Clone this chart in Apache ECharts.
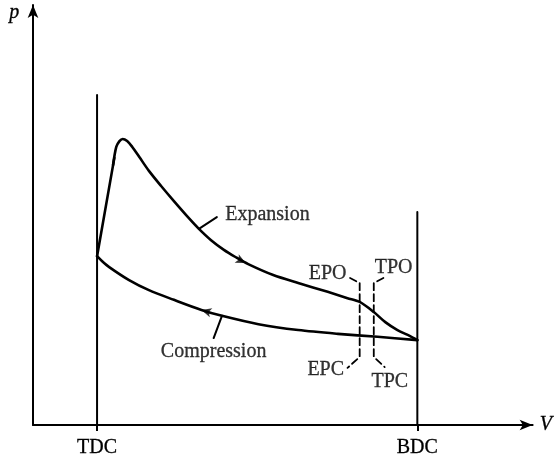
<!DOCTYPE html>
<html>
<head>
<meta charset="utf-8">
<script src="https://cdn.jsdelivr.net/npm/echarts@6/dist/echarts.min.js"></script>
<style>
html, body { margin: 0; padding: 0; background: #fff; }
#main { width: 555px; height: 460px; }
</style>
</head>
<body>
<div id="main"></div>
<script>
var chart = echarts.init(document.getElementById('main'));

// volume ticks (TDC = 1, BDC = 6)
var tickValues = [1, 6];
var tickLabels = ['TDC', 'BDC'];

// combustion pressure rise just after TDC (straight)
var combustion = [[1.0, 4.02], [1.27, 6.36]];

// expansion stroke, peak -> BDC
var expansion = [
    [1.25, 6.19], [1.30, 6.62], [1.35, 6.76], [1.40, 6.81], [1.47, 6.76],
    [1.55, 6.62], [1.66, 6.38], [1.81, 6.05], [2.00, 5.69], [2.20, 5.33],
    [2.43, 4.93], [2.59, 4.67], [2.78, 4.40], [2.98, 4.17], [3.16, 4.00],
    [3.36, 3.83], [3.75, 3.57], [4.14, 3.38], [4.60, 3.17], [4.91, 3.02],
    [5.10, 2.93], [5.32, 2.69], [5.50, 2.45], [5.69, 2.26], [5.88, 2.12],
    [6.0, 2.02]
];

// compression stroke, TDC <- BDC
var compression = [
    [1.0, 4.02], [1.08, 3.90], [1.19, 3.76], [1.50, 3.45], [1.81, 3.21],
    [2.20, 2.98], [2.63, 2.74], [2.95, 2.60], [3.52, 2.40], [4.14, 2.26],
    [4.76, 2.17], [5.38, 2.10], [6.0, 2.02]
];

// dead-centre lines
var tdcLine = [[1, 0], [1, 7.86]];
var bdcLine = [[6, 0], [6, 5.07]];

// port timing markers
var exhaustPort = [[4.95, 3.50], [5.10, 3.38], [5.10, 1.62], [4.91, 1.36]];
var transferPort = [[5.47, 3.50], [5.32, 3.38], [5.32, 1.62], [5.49, 1.38]];

// leader lines
var expansionLeader = [[2.59, 4.67], [2.87, 4.95]];
var compressionLeader = [[2.82, 2.07], [2.95, 2.60]];

// direction arrows: [x, y, rotation]
var arrows = [[3.32, 3.86, -116], [2.63, 2.74, 74]];

var labels = [
    { name: 'Expansion', value: [3.66, 5.0] },
    { name: 'Compression', value: [2.82, 1.74] },
    { name: 'EPO', value: [4.60, 3.60] },
    { name: 'TPO', value: [5.63, 3.74] },
    { name: 'EPC', value: [4.57, 1.31] },
    { name: 'TPC', value: [5.57, 1.02] }
];

var serif = 'Liberation Serif';

function lineSeries(data, width, type, smooth) {
    return {
        type: 'line',
        data: data,
        smooth: smooth || false,
        symbol: 'none',
        clip: false,
        silent: true,
        lineStyle: { color: '#000', width: width, type: type || 'solid', cap: 'round', join: 'round' }
    };
}

option = {
    backgroundColor: '#fff',
    animation: false,
    grid: { left: 33, right: 19, top: 5, bottom: 35 },
    xAxis: {
        type: 'value',
        min: 0,
        max: 7.8,
        name: 'V',
        nameLocation: 'end',
        nameGap: 7,
        nameTextStyle: {
            fontFamily: serif, fontStyle: 'italic', fontSize: 20, color: '#000',
            textBorderColor: '#000', textBorderWidth: 0.3
        },
        axisLine: {
            lineStyle: { color: '#000', width: 2 },
            symbol: ['none', 'arrow'],
            symbolSize: [8, 13]
        },
        axisTick: {
            show: true,
            customValues: tickValues,
            length: 6,
            lineStyle: { color: '#000', width: 2 }
        },
        axisLabel: {
            customValues: tickValues,
            margin: 13,
            fontFamily: serif,
            fontSize: 20,
            color: '#000',
            textBorderColor: '#000',
            textBorderWidth: 0.3,
            formatter: function (v) {
                var i = tickValues.indexOf(v);
                return i >= 0 ? tickLabels[i] : '';
            }
        },
        splitLine: { show: false }
    },
    yAxis: {
        type: 'value',
        min: 0,
        max: 10,
        axisLine: {
            show: true,
            lineStyle: { color: '#000', width: 2 },
            symbol: ['none', 'arrow'],
            symbolSize: [8, 13]
        },
        axisTick: { show: false },
        axisLabel: { show: false },
        splitLine: { show: false }
    },
    graphic: [
        {
            type: 'text',
            left: 9,
            top: 3,
            style: {
                text: 'p', font: 'italic 20px "Liberation Serif"', fill: '#000',
                stroke: '#000', lineWidth: 0.3
            }
        }
    ],
    series: [
        lineSeries(combustion, 2.6),
        lineSeries(expansion, 2.6, 'solid', 0.3),
        lineSeries(compression, 2.6, 'solid', 0.3),
        lineSeries(tdcLine, 2),
        lineSeries(bdcLine, 2),
        lineSeries(exhaustPort, 1.8, [7, 4]),
        lineSeries(transferPort, 1.8, [7, 4]),
        lineSeries(expansionLeader, 2),
        lineSeries(compressionLeader, 2),
        {
            type: 'scatter',
            silent: true,
            clip: false,
            symbol: 'arrow',
            symbolSize: [7, 10],
            symbolRotate: function (val) { return val[2]; },
            itemStyle: { color: '#000' },
            data: arrows
        },
        {
            type: 'scatter',
            silent: true,
            clip: false,
            symbolSize: 0,
            data: labels,
            label: {
                show: true,
                position: 'inside',
                formatter: '{b}',
                fontFamily: serif,
                fontSize: 20,
                color: '#000',
                textBorderColor: '#000',
                textBorderWidth: 0.3
            }
        }
    ]
};
chart.setOption(option);
</script>
</body>
</html>
